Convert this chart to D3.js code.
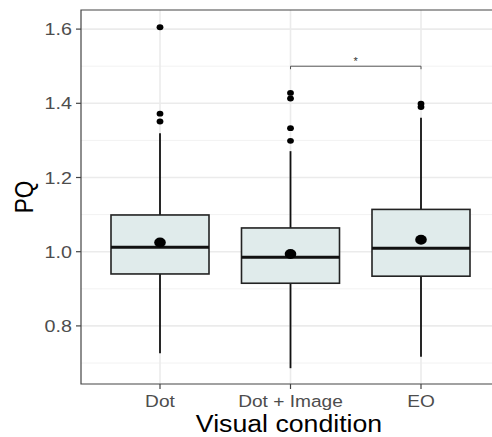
<!DOCTYPE html>
<html><head><meta charset="utf-8">
<script src="https://cdn.jsdelivr.net/npm/d3@7"></script>
<style>body{margin:0;background:#fff}svg{display:block}</style>
</head><body>
<svg id="c" width="492" height="437"></svg>
<script>
const categories = ["Dot", "Dot + Image", "EO"];
const q1 = [0.940, 0.915, 0.934];
const median = [1.012, 0.985, 1.009];
const q3 = [1.099, 1.064, 1.114];
const whiskerLow = [0.726, 0.686, 0.717];
const whiskerHigh = [1.319, 1.271, 1.361];
const means = [1.025, 0.994, 1.032];
const outliers = [[1.605, 1.372, 1.351], [1.428, 1.413, 1.333, 1.299], [1.399, 1.390]];
const yTicks = [0.8, 1.0, 1.2, 1.4, 1.6];
const yMinor = [0.7, 0.9, 1.1, 1.3, 1.5];
const sigPair = ["Dot + Image", "EO"];
const sigLabel = "*";
const sigY = 1.5;

const svg = d3.select("#c");
const L = 81, T = 10, B = 384, R = 499;
const SX = 1.16;
const font = "'Liberation Sans', Arial, sans-serif";

const y = d3.scaleLinear().domain([0.6434, 1.6515]).range([B, T]);
const x = d3.scalePoint().domain(categories).range([160, 421]);
const halfW = 49;

// panel background
svg.append("rect").attr("x", L).attr("y", T).attr("width", R - L).attr("height", B - T).attr("fill", "#fff");
// minor grid
svg.selectAll(".gmin").data(yMinor).enter().append("line")
  .attr("x1", L).attr("x2", R).attr("y1", d => y(d)).attr("y2", d => y(d))
  .attr("stroke", "#F2F2F2").attr("stroke-width", 1);
// major grid
svg.selectAll(".gmaj").data(yTicks).enter().append("line")
  .attr("x1", L).attr("x2", R).attr("y1", d => y(d)).attr("y2", d => y(d))
  .attr("stroke", "#EBEBEB").attr("stroke-width", 1.6);
svg.selectAll(".gx").data(categories).enter().append("line")
  .attr("x1", d => x(d)).attr("x2", d => x(d)).attr("y1", T).attr("y2", B)
  .attr("stroke", "#EBEBEB").attr("stroke-width", 1.6);

const data = categories.map((c, i) => ({c, q1: q1[i], med: median[i], q3: q3[i], lo: whiskerLow[i], hi: whiskerHigh[i], mean: means[i], out: outliers[i]}));

const g = svg.selectAll(".box").data(data).enter().append("g");
// whiskers
g.append("line").attr("x1", d => x(d.c)).attr("x2", d => x(d.c))
  .attr("y1", d => y(d.q3)).attr("y2", d => y(d.hi)).attr("stroke", "#111").attr("stroke-width", 1.8);
g.append("line").attr("x1", d => x(d.c)).attr("x2", d => x(d.c))
  .attr("y1", d => y(d.q1)).attr("y2", d => y(d.lo)).attr("stroke", "#111").attr("stroke-width", 1.8);
// box
g.append("rect").attr("x", d => x(d.c) - halfW).attr("width", 2 * halfW)
  .attr("y", d => y(d.q3)).attr("height", d => y(d.q1) - y(d.q3))
  .attr("fill", "#E0EBEB").attr("stroke", "#222").attr("stroke-width", 1.6);
// median
g.append("line").attr("x1", d => x(d.c) - halfW).attr("x2", d => x(d.c) + halfW)
  .attr("y1", d => y(d.med)).attr("y2", d => y(d.med)).attr("stroke", "#111").attr("stroke-width", 3);
// outliers
g.each(function(d) {
  d3.select(this).selectAll("ellipse.o").data(d.out).enter().append("ellipse")
    .attr("cx", x(d.c)).attr("cy", v => y(v)).attr("rx", 3.4).attr("ry", 2.9).attr("fill", "#000");
});
// mean
g.append("ellipse").attr("cx", d => x(d.c)).attr("cy", d => y(d.mean)).attr("rx", 5.8).attr("ry", 5).attr("fill", "#000");

// significance bracket
const sx1 = x(sigPair[0]), sx2 = x(sigPair[1]), sy = y(sigY);
svg.append("path").attr("d", `M${sx1},${sy + 3}V${sy}H${sx2}V${sy + 3}`)
  .attr("fill", "none").attr("stroke", "#555").attr("stroke-width", 1);
svg.append("text").attr("x", (sx1 + sx2) / 2).attr("y", sy - 1)
  .attr("text-anchor", "middle").attr("font-family", font).attr("font-size", 11).attr("fill", "#333").text(sigLabel);

// panel border (left, top, bottom)
svg.append("path").attr("d", `M${R},${T}H${L}V${B}H${R}`).attr("fill", "none").attr("stroke", "#444").attr("stroke-width", 1.2);

// y ticks
svg.selectAll(".yt").data(yTicks).enter().append("line")
  .attr("x1", L - 5).attr("x2", L).attr("y1", d => y(d)).attr("y2", d => y(d)).attr("stroke", "#444").attr("stroke-width", 1.2);
svg.selectAll(".yl").data(yTicks).enter().append("g")
  .attr("transform", d => `translate(72,${y(d) + 6}) scale(${SX},1)`)
  .append("text").attr("text-anchor", "end").attr("font-family", font).attr("font-size", 17).attr("fill", "#4D4D4D")
  .text(d => d3.format(".1f")(d));

// x ticks
svg.selectAll(".xt").data(categories).enter().append("line")
  .attr("x1", d => x(d)).attr("x2", d => x(d)).attr("y1", B).attr("y2", B + 5).attr("stroke", "#444").attr("stroke-width", 1.2);
svg.selectAll(".xl").data(categories).enter().append("g")
  .attr("transform", d => `translate(${x(d)},406.5) scale(${SX},1)`)
  .append("text").attr("text-anchor", "middle").attr("font-family", font).attr("font-size", 16.5).attr("fill", "#4D4D4D")
  .text(d => d);

// axis titles
svg.append("g").attr("transform", `translate(289,431.5) scale(${SX},1)`)
  .append("text").attr("text-anchor", "middle").attr("font-family", font).attr("font-size", 23).attr("fill", "#000")
  .text("Visual condition");
svg.append("g").attr("transform", `translate(32.5,197) scale(${SX},1) rotate(-90)`)
  .append("text").attr("text-anchor", "middle").attr("font-family", font).attr("font-size", 22.5).attr("fill", "#000")
  .text("PQ");
</script>
</body></html>
